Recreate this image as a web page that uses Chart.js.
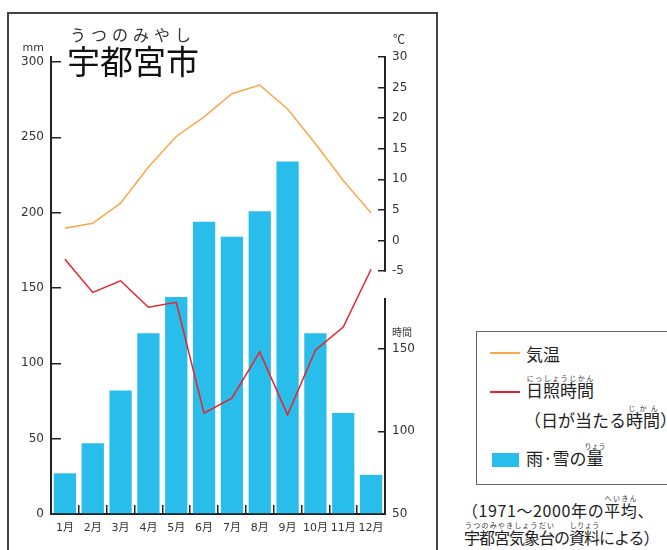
<!DOCTYPE html>
<html>
<head>
<meta charset="utf-8">
<title>宇都宮市 気温・日照時間・雨や雪の量</title>
<script src="https://cdn.jsdelivr.net/npm/chart.js@4"></script>
<style>
  body { margin: 0; width: 667px; height: 550px; overflow: hidden; background: #fff; position: relative;
         font-family: "Noto Sans CJK JP", sans-serif; color: #222; }
  .frame { position: absolute; left: 7px; top: 12px; width: 427px; height: 570px; border: 2px solid #444; }
  #wrap { position: absolute; left: 0; top: 0; width: 440px; height: 550px; }
  .abs { position: absolute; white-space: nowrap; line-height: 1; }
  .kana { left: 70px; top: 26px; font-size: 16px; letter-spacing: 5px; color: #333; }
  .city { left: 67px; top: 44px; font-size: 33px; color: #111; }
  .legend { position: absolute; left: 476px; top: 331px; width: 220px; height: 152px; border: 1.5px solid #666; }
  .leg { font-size: 17px; color: #222; }
  rt { font-size: 7px; color: #333; }
  .mark { position: absolute; }
</style>
</head>
<body>
<div class="frame"></div>
<div id="wrap"><canvas id="chart"></canvas></div>

<div class="abs kana">うつのみやし</div>
<div class="abs city">宇都宮市</div>

<div class="legend"></div>
<div class="mark" style="left:490px; top:352px; width:30px; height:1.5px; background:#f7a84a;"></div>
<div class="abs leg" style="left:526px; top:345px;">気温</div>
<div class="mark" style="left:490px; top:391px; width:30px; height:1.5px; background:#e8232b;"></div>
<div class="abs leg" style="left:526px; top:374px;"><ruby>日照時間<rt>にっしょうじかん</rt></ruby></div>
<div class="abs leg" style="left:524px; top:404px;">（日が当たる<ruby>時間<rt>じかん</rt></ruby>）</div>
<div class="mark" style="left:492px; top:453px; width:27px; height:14px; background:#28bdeb;"></div>
<div class="abs leg" style="left:526px; top:442px;">雨·雪の<ruby>量<rt>りょう</rt></ruby></div>

<div class="abs leg" style="left:462px; top:494px; font-size:16px; letter-spacing:0.6px;">（1971～2000年の<ruby>平均<rt>へいきん</rt></ruby>、</div>
<div class="abs leg" style="left:464px; top:521px; font-size:16px; letter-spacing:-1px;"><ruby>宇都宮気象台<rt>うつのみやきしょうだい</rt></ruby>の<ruby>資料<rt>しりょう</rt></ruby>による）</div>

<script>
// 1971〜2000年の平均(宇都宮気象台)
const months = ['1月', '2月', '3月', '4月', '5月', '6月', '7月', '8月', '9月', '10月', '11月', '12月'];
const rain = [27, 47, 82, 120, 144, 194, 184, 201, 234, 120, 67, 26];      // mm
const temperature = [2.0, 2.8, 6.1, 12.0, 17.0, 20.2, 24.0, 25.4, 21.5, 15.8, 9.8, 4.5]; // ℃
const sunshine = [204, 184, 191, 175, 178, 111, 120, 148, 110, 149, 163, 198];   // 時間

const rainTicks = [0, 50, 100, 150, 200, 250, 300];
const tempTicks = [-5, 0, 5, 10, 15, 20, 25, 30];
const sunTicks = [50, 100, 150];

const numFont = { family: '"DejaVu Sans", "Noto Sans CJK JP"', size: 12 };
const ink = '#222';

function fixTicks(list) {
  return s => { s.ticks = list.map(v => ({ value: v })); };
}

// 単位の文字 (mm, ℃, 時間)
const unitLabels = {
  id: 'unitLabels',
  afterDraw(chart) {
    const { ctx, scales } = chart;
    ctx.save();
    ctx.fillStyle = '#333';
    ctx.textBaseline = 'middle';
    ctx.font = '11px "DejaVu Sans"';
    ctx.textAlign = 'right';
    ctx.fillText('mm', scales.y.right - 7, scales.y.getPixelForValue(300) - 14);
    ctx.textAlign = 'left';
    ctx.font = '12px "Noto Sans CJK JP"';
    ctx.fillText('℃', scales.temp.left + 8, scales.temp.getPixelForValue(30) - 18);
    ctx.font = '10px "Noto Sans CJK JP"';
    ctx.fillText('時間', scales.sun.left + 7, scales.sun.getPixelForValue(150) - 16);
    ctx.restore();
  }
};

new Chart(document.getElementById('chart'), {
  type: 'bar',
  data: {
    labels: months,
    datasets: [
      {
        type: 'line', label: '気温', data: temperature, yAxisID: 'temp', clip: false,
        borderColor: '#f7a84a', borderWidth: 1.5, pointRadius: 0, tension: 0, order: 0
      },
      {
        type: 'line', label: '日照時間', data: sunshine, yAxisID: 'sun', clip: false,
        borderColor: '#e8232b', borderWidth: 1.5, pointRadius: 0, tension: 0, order: 0
      },
      {
        label: '雨·雪の量', data: rain, yAxisID: 'y',
        backgroundColor: '#28bdeb', categoryPercentage: 1, barPercentage: 0.8, order: 1
      }
    ]
  },
  options: {
    responsive: true,
    maintainAspectRatio: false,
    animation: false,
    layout: { padding: { top: 57, left: 0, right: 0, bottom: 0 } },
    plugins: { legend: { display: false }, tooltip: { enabled: false } },
    scales: {
      x: {
        offset: true,
        grid: { offset: true, drawOnChartArea: false, tickLength: -9, color: ink, lineWidth: 1.5 },
        border: { color: ink, width: 2 },
        ticks: { padding: 17, color: '#333', autoSkip: false, maxRotation: 0,
                 font: { family: '"DejaVu Sans", "Noto Sans CJK JP"', size: 11 } },
        afterFit: s => { s.height = 36; }
      },
      y: {
        position: 'left', min: 0, max: 303.3,
        afterBuildTicks: fixTicks(rainTicks),
        grid: { drawOnChartArea: false, tickLength: -10, color: ink, lineWidth: 1.5 },
        border: { color: ink, width: 2 },
        ticks: { padding: 17, color: '#333', font: numFont, autoSkip: false },
        afterFit: s => { s.width = 51; }
      },
      temp: {
        position: 'right', stack: 'right', stackWeight: 214, min: -5, max: 30,
        afterBuildTicks: fixTicks(tempTicks),
        grid: { drawOnChartArea: false, tickLength: -7, color: ink, lineWidth: 1.5 },
        border: { color: ink, width: 2 },
        ticks: { padding: 14, color: '#333', font: numFont, autoSkip: false },
        afterFit: s => { s.width = 55; }
      },
      gap: {
        position: 'right', stack: 'right', stackWeight: 28,
        ticks: { display: false },
        grid: { display: false },
        border: { display: false },
        afterFit: s => { s.width = 55; }
      },
      sun: {
        position: 'right', stack: 'right', stackWeight: 215, min: 50, max: 180,
        afterBuildTicks: fixTicks(sunTicks),
        grid: { drawOnChartArea: false, tickLength: -7, color: ink, lineWidth: 1.5 },
        border: { color: ink, width: 2 },
        ticks: { padding: 14, color: '#333', font: numFont, autoSkip: false },
        afterFit: s => { s.width = 55; }
      }
    }
  },
  plugins: [unitLabels]
});
</script>
</body>
</html>
